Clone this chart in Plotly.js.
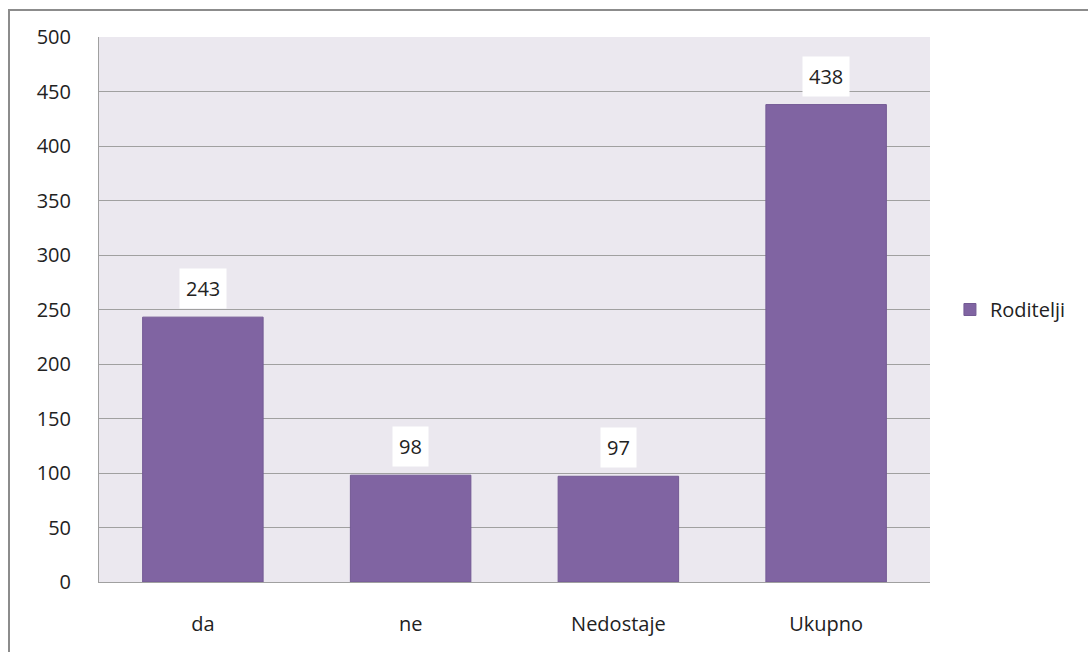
<!DOCTYPE html>
<html>
<head>
<meta charset="utf-8">
<script src="https://cdn.plot.ly/plotly-3.0.1.min.js"></script>
<style>
  html, body { margin: 0; padding: 0; background: #fff; }
  #wrap { position: relative; width: 1088px; height: 652px; overflow: hidden; }
  #frame { position: absolute; left: 8px; top: 9px; width: 1200px; height: 800px; border: 2px solid #8c8c8c; box-sizing: border-box; pointer-events: none; }
  #chart { position: absolute; left: 0; top: 0; width: 1088px; height: 652px; }
</style>
</head>
<body>
<div id="wrap">
  <div id="chart"></div>
  <div id="frame"></div>
</div>
<script>
const categories = ["da", "ne", "Nedostaje", "Ukupno"];
const values = [243, 98, 97, 438];
const seriesName = "Roditelji";
const yTicks = [0, 50, 100, 150, 200, 250, 300, 350, 400, 450, 500];

const FONT = "Open Sans, DejaVu Sans, sans-serif";
const FS = 20;

const trace = {
  type: "bar",
  x: categories,
  y: values,
  name: seriesName,
  width: 0.58,
  marker: { color: "#8064A2", line: { color: "#735a94", width: 1 } },
  showlegend: true,
  hoverinfo: "x+y"
};

const annotations = categories.map((c, i) => ({
  x: c, y: values[i], xref: "x", yref: "y",
  text: String(values[i]),
  showarrow: false,
  yanchor: "bottom",
  yshift: 8,
  bgcolor: "#ffffff",
  borderpad: 6,
  font: { family: FONT, size: FS, color: "#222" }
}));

const layout = {
  width: 1088, height: 652,
  margin: { l: 99, r: 158, t: 37, b: 70 },
  paper_bgcolor: "rgba(0,0,0,0)",
  plot_bgcolor: "#EBE8EF",
  font: { family: FONT, size: FS, color: "#222" },
  xaxis: {
    type: "category",
    showgrid: false,
    showline: true, linecolor: "#a0a0a0", linewidth: 1,
    ticks: "",
    ticklabelstandoff: 24,
    tickfont: { family: FONT, size: FS, color: "#222" },
    fixedrange: true
  },
  yaxis: {
    range: [0, 500],
    tickvals: yTicks,
    showgrid: true, gridcolor: "#a0a0a0", gridwidth: 1,
    showline: true, linecolor: "#a0a0a0", linewidth: 1,
    zeroline: false,
    ticks: "",
    ticklabelstandoff: 23,
    tickfont: { family: FONT, size: FS, color: "#222" },
    fixedrange: true
  },
  legend: {
    x: 1.024, xanchor: "left", y: 0.5, yanchor: "middle",
    bgcolor: "rgba(0,0,0,0)",
    font: { family: FONT, size: FS, color: "#222" },
    itemwidth: 30
  },
  annotations: annotations,
  bargap: 0.42
};

Plotly.newPlot("chart", [trace], layout, { displayModeBar: false, staticPlot: true });
</script>
</body>
</html>
